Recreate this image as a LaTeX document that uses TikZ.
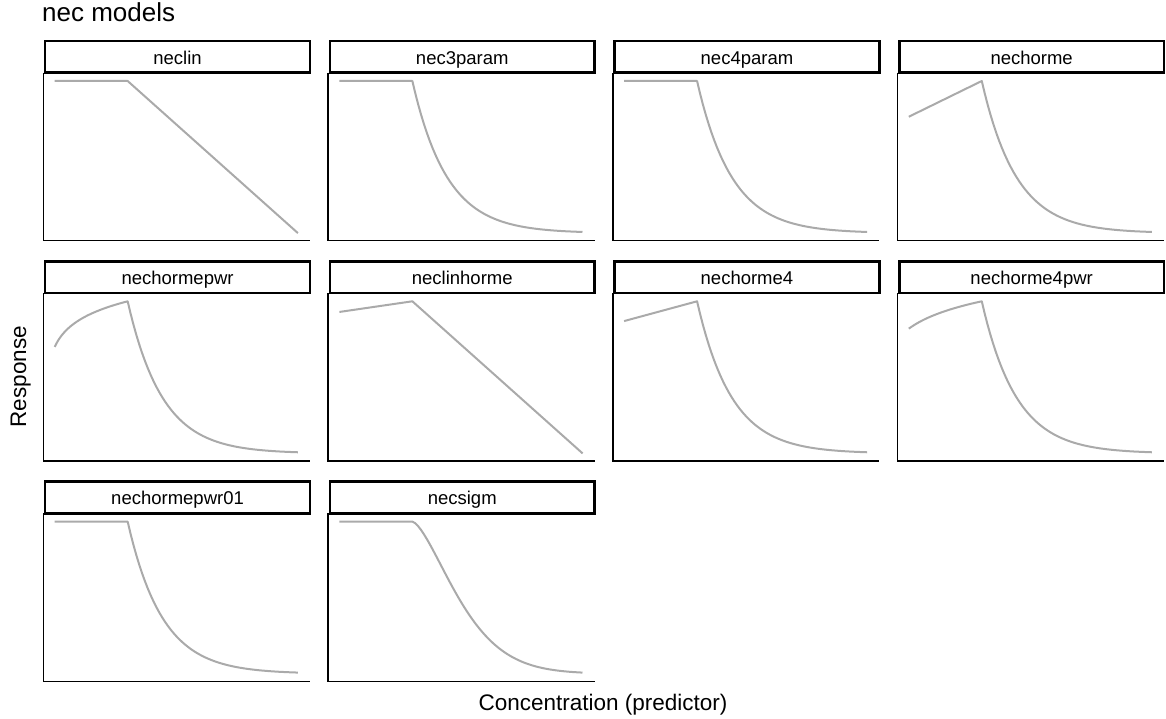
\documentclass[tikz,border=0pt]{standalone}
\usepackage{fontspec}
\setmainfont{Liberation Sans}
\definecolor{fitgrey}{RGB}{170,170,170}
\tikzset{
  in panel/.style 2 args={shift={({54.7+284.7*#1},{233.1+220.3*#2})},x=243.2pt,y=152.1pt}
}

\begin{document}
\begin{tikzpicture}
  [x=1pt,y=-1pt,
   stripbox/.style={draw,line width=2.6pt,anchor=north west,inner sep=0pt,
     minimum width=264.9pt,minimum height=31.8pt,text height=15pt,text depth=0pt,
     font=\fontsize{18.5}{20}\selectfont},
   axisline/.style={line width=1.6pt},
   fitline/.style={fitgrey,line width=2pt,line join=round}]
  \useasboundingbox (0,0) rectangle (1166,719);
  % facets
  \foreach \name/\col/\row in {neclin/0/0, nec3param/1/0, nec4param/2/0, nechorme/3/0,
      nechormepwr/0/1, neclinhorme/1/1, nechorme4/2/1, nechorme4pwr/3/1,
      nechormepwr01/0/2, necsigm/1/2}{
    \pgfmathsetmacro{\cx}{42.5+284.7*\col}
    \pgfmathsetmacro{\cy}{38.3+220.3*\row}
    \node[stripbox] (\name) at (\cx+1.3,\cy+1.3) {\name};
    \draw[axisline] (\cx+0.8,\cy+34.4) |- (\cx+267.5,\cy+202.4);
  }
  % fitted curves
  \draw[fitline,in panel={0}{0}] (0,1) -- (0.3,1) -- (1,0);
  \draw[fitline,in panel={1}{0}] (0,1) -- (0.3,1)
    -- plot[domain=0.3:1,samples=60] (\x,{exp(-7*(\x-0.3))});
  \draw[fitline,in panel={2}{0}] (0,1) -- (0.3,1)
    -- plot[domain=0.3:1,samples=60] (\x,{exp(-7*(\x-0.3))});
  \draw[fitline,in panel={3}{0}] (0,0.765) -- (0.3,1)
    -- plot[domain=0.3:1,samples=60] (\x,{exp(-7*(\x-0.3))});
  \draw[fitline,in panel={0}{1}]
    plot[domain=0:0.3,samples=40] (\x,{0.7+0.3*ln(1+25*\x)/ln(8.5)})
    -- plot[domain=0.3:1,samples=60] (\x,{exp(-7*(\x-0.3))});
  \draw[fitline,in panel={1}{1}] (0,0.93) -- (0.3,1) -- (1,0);
  \draw[fitline,in panel={2}{1}] (0,0.87) -- (0.3,1)
    -- plot[domain=0.3:1,samples=60] (\x,{exp(-7*(\x-0.3))});
  \draw[fitline,in panel={3}{1}]
    plot[domain=0:0.3,samples=40] (\x,{0.82+0.18*ln(1+8*\x)/ln(3.4)})
    -- plot[domain=0.3:1,samples=60] (\x,{exp(-7*(\x-0.3))});
  \draw[fitline,in panel={0}{2}] (0,1) -- (0.3,1)
    -- plot[domain=0.3:1,samples=60] (\x,{exp(-7*(\x-0.3))});
  \draw[fitline,in panel={1}{2}] (0,1) -- (0.3,1)
    -- plot[domain=0.3:1,samples=60] (\x,{exp(-8.4*(\x-0.3)*sqrt(abs(\x-0.3)))});
  % titles
  \node[font=\fontsize{26}{30}\selectfont,anchor=base west,inner sep=0pt] (title) at (42,21.7) {nec models};
  \node[font=\fontsize{22.5}{26}\selectfont,anchor=base,inner sep=0pt] (xlab) at (603,710) {Concentration (predictor)};
  \node[font=\fontsize{22.5}{26}\selectfont,anchor=base,rotate=90,inner sep=0pt] (ylab) at (26,376.7) {Response};
\end{tikzpicture}
\end{document}
